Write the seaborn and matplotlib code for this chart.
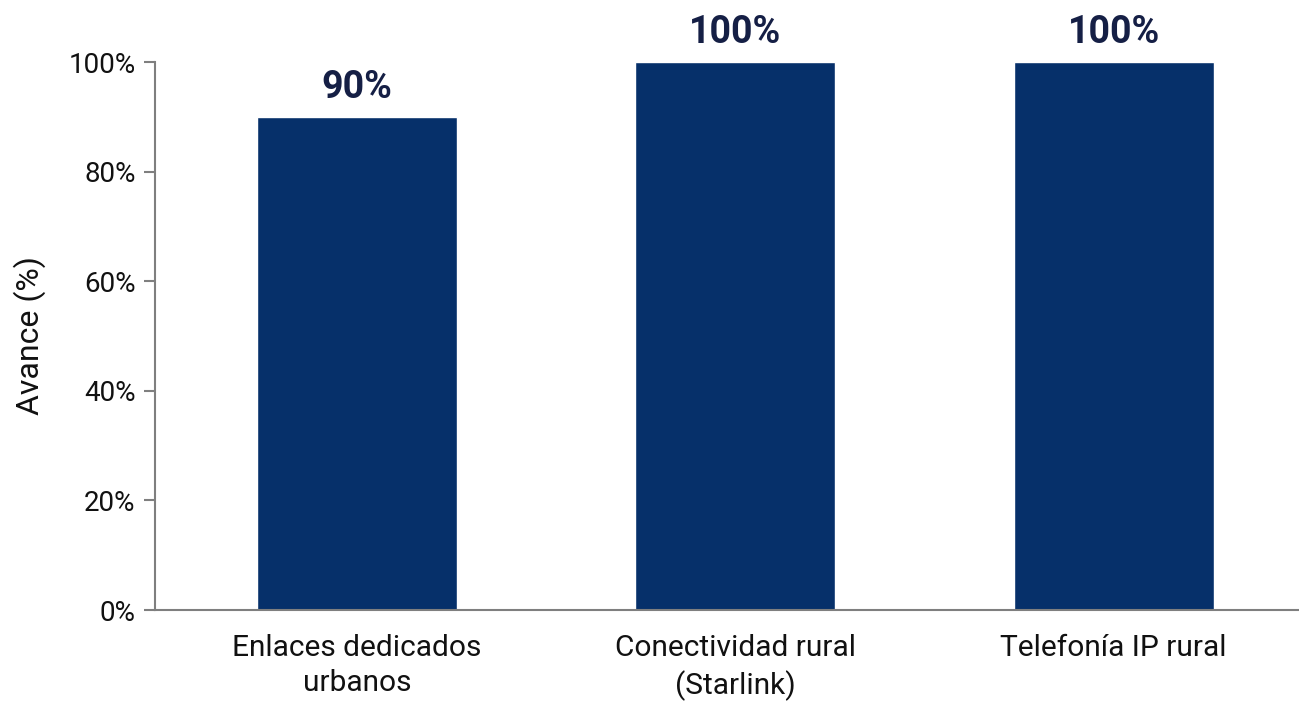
"""Avance por componente — bar chart."""

import matplotlib
matplotlib.use("Agg")
import matplotlib.pyplot as plt
import pandas as pd
import seaborn as sns
from matplotlib.ticker import FuncFormatter

categories = ["Enlaces dedicados\nurbanos", "Conectividad rural\n(Starlink)", "Telefonía IP rural"]
avance = [90, 100, 100]
bar_labels = ["90%", "100%", "100%"]

BAR_COLOR = "#06306a"
LABEL_COLOR = "#151f45"
SPINE_COLOR = "#7f7f7f"

sns.set_theme(style="white")
plt.rcParams["font.family"] = ["Roboto", "DejaVu Sans"]

df = pd.DataFrame({"categoria": categories, "avance": avance})

fig = plt.figure(figsize=(12.99, 7.04), dpi=100)
ax = fig.add_axes([0.1193, 0.1335, 0.8807, 0.7784])

sns.barplot(data=df, x="categoria", y="avance", color=BAR_COLOR,
            width=0.528, saturation=1, ax=ax)

# Value labels above each bar.
for i, (v, lab) in enumerate(zip(avance, bar_labels)):
    ax.text(i, v + 2.0, lab, ha="center", va="bottom", fontsize=27,
            fontweight="bold", color=LABEL_COLOR, clip_on=False)

ax.set_ylim(0, 100)
ax.set_xlim(-0.534, 2.49)
ax.set_yticks(range(0, 101, 20))
ax.yaxis.set_major_formatter(FuncFormatter(lambda y, _: f"{int(y)}%"))
ax.set_xlabel("")
ax.set_ylabel("Avance (%)", fontsize=23, color="#111111", labelpad=16)

ax.tick_params(axis="y", labelsize=20, length=8, width=1.5, color=SPINE_COLOR,
               left=True, pad=6, labelcolor="#111111")
ax.tick_params(axis="x", labelsize=21.5, length=0, pad=17, labelcolor="#111111")
for lbl in ax.get_xticklabels():
    lbl.set_linespacing(1.35)

sns.despine(ax=ax, top=True, right=True)
for side in ("left", "bottom"):
    ax.spines[side].set_color(SPINE_COLOR)
    ax.spines[side].set_linewidth(1.5)

fig.savefig("out.png", dpi=100)
plt.close(fig)
